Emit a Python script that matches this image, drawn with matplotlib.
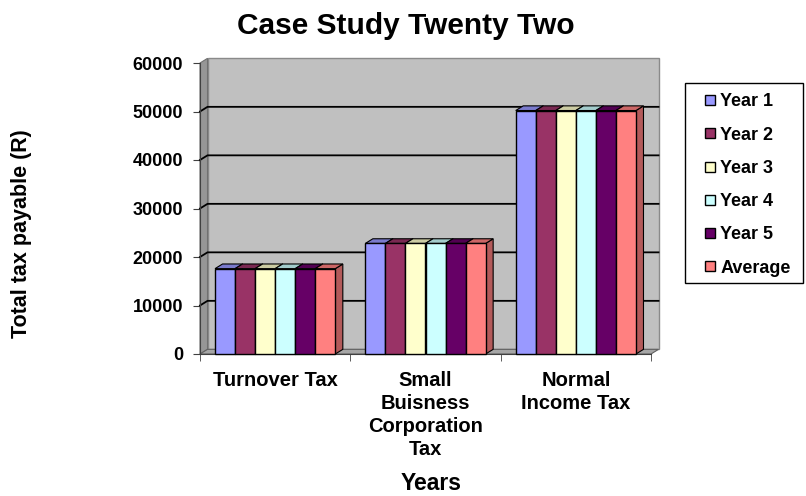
"""Clustered 3D-style column chart: tax payable per tax regime over five years."""

import numpy as np
import matplotlib
matplotlib.use("Agg")
import matplotlib.pyplot as plt
from matplotlib.patches import Polygon, Rectangle
from matplotlib.lines import Line2D
from matplotlib.colors import to_rgb

plt.rcParams["font.family"] = ["Liberation Sans", "DejaVu Sans"]
plt.rcParams["font.weight"] = "bold"

categories = ["Turnover Tax", "Small\nBuisness\nCorporation\nTax", "Normal\nIncome Tax"]
series_names = ["Year 1", "Year 2", "Year 3", "Year 4", "Year 5", "Average"]
turnover_tax = [17600, 17600, 17600, 17600, 17600, 17600]
small_business_tax = [22800, 22800, 22800, 22800, 22800, 22800]
normal_income_tax = [50200, 50200, 50200, 50200, 50200, 50200]
y_ticks = [0, 10000, 20000, 30000, 40000, 50000, 60000]

colors = ["#9999FF", "#993366", "#FFFFCC", "#CCFFFF", "#660066", "#FF8080"]

values = np.array([turnover_tax, small_business_tax, normal_income_tax])

# depth offset of the fake 3d box, in data units
DX = 0.05
DY = 960
YMAX = 60000


def shade(c, f):
    r, g, b = to_rgb(c)
    return (r * f, g * f, b * f)


fig = plt.figure(figsize=(8.06, 4.96), dpi=100)
ax = fig.add_axes([200 / 806, 1 - 354 / 496, 451 / 806, 291 / 496])
ax.set_xlim(0, 3)
ax.set_ylim(0, YMAX)
ax.patch.set_visible(False)

# walls and floor
back = Polygon([(DX, DY), (3 + DX, DY), (3 + DX, YMAX + DY), (DX, YMAX + DY)],
               closed=True, facecolor="#C0C0C0", edgecolor="#8A8A8A", lw=1,
               clip_on=False, zorder=0)
ax.add_patch(back)
left = Polygon([(0, 0), (DX, DY), (DX, YMAX + DY), (0, YMAX)], closed=True,
               facecolor="#969696", edgecolor="#707070", lw=0.8,
               clip_on=False, zorder=1)
ax.add_patch(left)
floor = Polygon([(0, 0), (3, 0), (3 + DX, DY), (DX, DY)], closed=True,
                facecolor="#A6A6A6", edgecolor="#606060", lw=0.8,
                clip_on=False, zorder=1)
ax.add_patch(floor)

# gridlines on the back wall, with the short run across the side wall
for v in y_ticks[1:-1]:
    ax.plot([0, DX, 3 + DX], [v, v + DY, v + DY], color="black", lw=1.3,
            clip_on=False, zorder=2)

# columns
n = len(series_names)
group_w = 0.8
w = group_w / n
for i in range(len(categories)):
    for j in range(n):
        x0 = i + (1 - group_w) / 2 + j * w
        h = values[i, j]
        side = Polygon([(x0 + w, 0), (x0 + w + DX, DY), (x0 + w + DX, h + DY), (x0 + w, h)],
                       closed=True, facecolor=shade(colors[j], 0.7), edgecolor="black",
                       lw=0.8, clip_on=False, zorder=3)
        top = Polygon([(x0, h), (x0 + w, h), (x0 + w + DX, h + DY), (x0 + DX, h + DY)],
                      closed=True, facecolor=shade(colors[j], 0.8), edgecolor="black",
                      lw=0.8, clip_on=False, zorder=3)
        ax.add_patch(side)
        ax.add_patch(top)
        ax.bar(x0, h, width=w, align="edge", color=colors[j], edgecolor="black",
               lw=1, zorder=4, clip_on=False)

# axes lines and ticks
for s in ["top", "right"]:
    ax.spines[s].set_visible(False)
ax.spines["left"].set_color("#404040")
ax.spines["bottom"].set_color("#404040")
ax.set_yticks(y_ticks)
ax.set_yticklabels([str(v) for v in y_ticks], fontsize=13, fontweight="bold")
ax.tick_params(axis="y", length=5, pad=7, color="#404040")
ax.set_xticks([0.5, 1.5, 2.5])
ax.set_xticklabels(categories, fontsize=14.5, fontweight="bold", linespacing=1.28)
ax.set_xticks([0, 1, 2, 3], minor=True)
ax.tick_params(axis="x", which="major", length=0, pad=12)
ax.tick_params(axis="x", which="minor", length=5, color="#404040")

fig.text(406 / 806, 1 - 26 / 496, "Case Study Twenty Two", ha="center", va="center",
         fontsize=21.5, fontweight="bold")
fig.text(22 / 806, 1 - 234 / 496, "Total tax payable (R)", ha="center", va="center",
         rotation=90, fontsize=15.5, fontweight="bold")
fig.text(431 / 806, 1 - 483 / 496, "Years", ha="center", va="center",
         fontsize=16.5, fontweight="bold")

# legend: square markers inside a plain black frame
fig.add_artist(Rectangle((685 / 806, 1 - 283 / 496), 118 / 806, 200 / 496,
                         transform=fig.transFigure, facecolor="white",
                         edgecolor="black", lw=1, zorder=5))
handles = [Line2D([], [], ls="none", marker="s", markersize=6.5,
                  markerfacecolor=c, markeredgecolor="black", markeredgewidth=1)
           for c in colors]
leg = fig.legend(handles, series_names, loc="upper left",
                 bbox_to_anchor=(696 / 806, 1 - 88 / 496), frameon=False,
                 prop={"size": 13, "weight": "bold"},
                 handlelength=0.9, handletextpad=0.15,
                 labelspacing=0.9, borderpad=0.3, borderaxespad=0)
leg.set_zorder(6)

fig.savefig("out.png", dpi=100)
